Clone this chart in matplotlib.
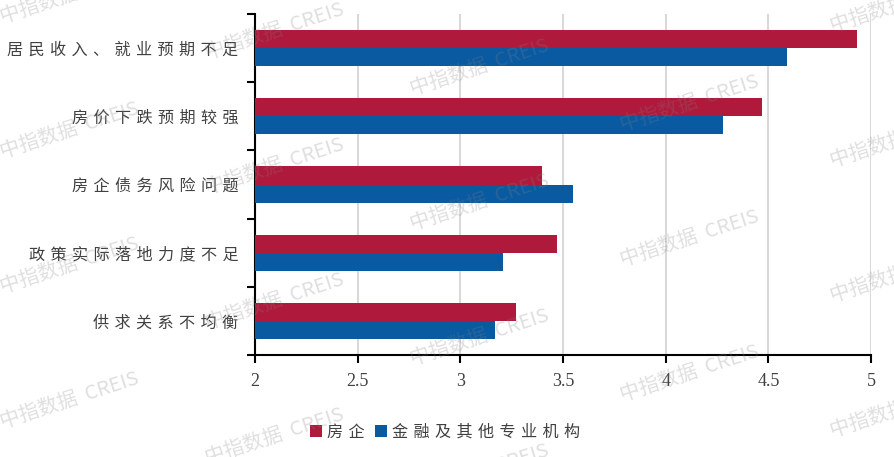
import matplotlib
matplotlib.use('Agg')
import matplotlib.pyplot as plt
from matplotlib.patches import Patch
import numpy as np

plt.rcParams['font.family'] = ['Noto Sans CJK SC', 'DejaVu Sans']

# data
categories = ['居民收入、就业预期不足', '房价下跌预期较强', '房企债务风险问题',
              '政策实际落地力度不足', '供求关系不均衡']
series_names = ['房企', '金融及其他专业机构']
developers = [4.93, 4.47, 3.40, 3.47, 3.27]
institutions = [4.59, 4.28, 3.55, 3.21, 3.17]
x_ticks = [2, 2.5, 3, 3.5, 4, 4.5, 5]
x_tick_labels = ['2', '2.5', '3', '3.5', '4', '4.5', '5']

RED = '#AF1A3C'
BLUE = '#0A5AA2'
TEXT = '#404040'


def spaced(s):
    # reference text is drawn with letter spacing
    return '\u2004'.join(s)


fig = plt.figure(figsize=(8.95, 4.57), dpi=100)
ax = fig.add_axes([255 / 895, 1 - 355 / 457, 616 / 895, 341 / 457])

y = np.arange(len(categories))
h = 0.265
ax.barh(y - h / 2, [v - 2 for v in developers], height=h, left=2, color=RED, zorder=3)
ax.barh(y + h / 2, [v - 2 for v in institutions], height=h, left=2, color=BLUE, zorder=3)

ax.set_xlim(2, 5)
ax.set_ylim(len(categories) - 0.5, -0.5)

ax.set_xticks(x_ticks)
ax.set_xticklabels(x_tick_labels, family='Liberation Serif', fontsize=13, color=TEXT)
ax.tick_params(axis='x', length=6, width=1.5, pad=7, color='black')
ax.grid(axis='x', color='#d9d9d9', linewidth=1.5, zorder=0)

ax.set_yticks(y)
ax.set_yticklabels([spaced(c) for c in categories], fontsize=11.6, color=TEXT)
ax.set_yticks(np.arange(len(categories) + 1) - 0.5, minor=True)
ax.tick_params(axis='y', which='major', length=0, pad=12)
ax.tick_params(axis='y', which='minor', length=6, width=1.5, color='black')

for side in ['top', 'right']:
    ax.spines[side].set_visible(False)
for side in ['left', 'bottom']:
    ax.spines[side].set_linewidth(1.5)
    ax.spines[side].set_color('black')
ax.set_axisbelow(True)

handles = [Patch(facecolor=RED), Patch(facecolor=BLUE)]
leg = fig.legend(handles, [spaced(s) for s in series_names], loc='center',
                 bbox_to_anchor=(445 / 895, 1 - 432 / 457), ncol=2, frameon=False,
                 handlelength=0.8, handleheight=0.8, handletextpad=0.3,
                 columnspacing=0.6, fontsize=11.6)
for t in leg.get_texts():
    t.set_color(TEXT)

# watermark tiles
cols = [70, 275, 480, 690, 900]
for i, cx in enumerate(cols):
    y0 = 130 + 36 * i
    for k in range(-2, 3):
        cy = y0 + 135 * k
        if -30 < cy < 490:
            fig.text(cx / 895, 1 - cy / 457, '中指数据  CREIS', fontsize=14.5,
                     fontweight='medium', color='#808080', alpha=0.25, rotation=18,
                     ha='center', va='center', zorder=10)

fig.savefig('out.png', dpi=100)
